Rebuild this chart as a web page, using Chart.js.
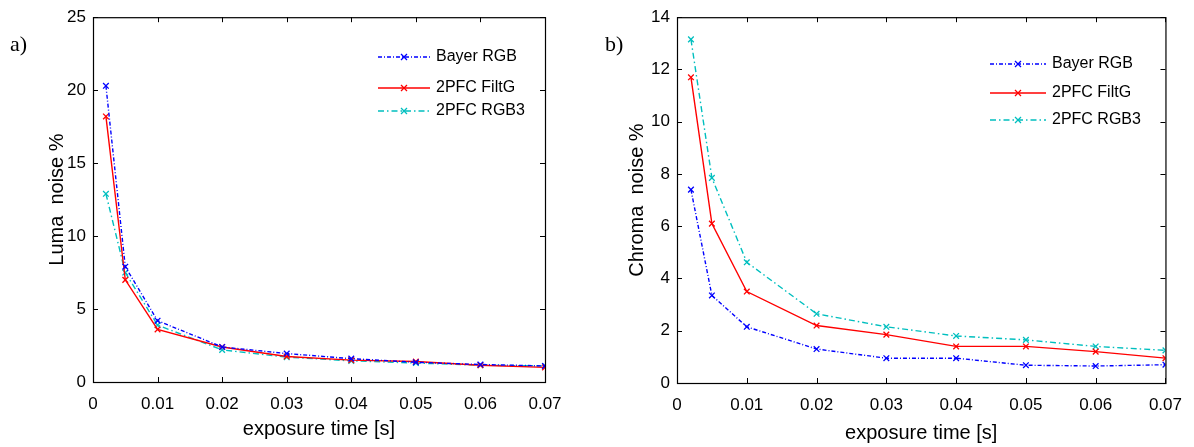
<!DOCTYPE html>
<html>
<head>
<meta charset="utf-8">
<script src="https://cdn.jsdelivr.net/npm/chart.js@4.4.1/dist/chart.umd.min.js"></script>
<style>
    html, body { margin: 0; padding: 0; background: #fff; }
    #wrap { position: relative; width: 1194px; height: 447px; }
    .box { position: absolute; top: 0; width: 597px; height: 447px; }
    #boxA { left: 0; }
    #boxB { left: 597px; }
</style>
</head>
<body>
<div id="wrap">
    <div class="box" id="boxA"><canvas id="lumaChart"></canvas></div>
    <div class="box" id="boxB"><canvas id="chromaChart"></canvas></div>
</div>
<script>
// exposure times (s)
const exposureTimes = [0.002, 0.005, 0.01, 0.02, 0.03, 0.04, 0.05, 0.06, 0.07];
const seriesNames = ['Bayer RGB', '2PFC FiltG', '2PFC RGB3'];

// a) luma noise %
const lumaBayer = [20.3, 7.9, 4.2, 2.4, 1.95, 1.6, 1.35, 1.2, 1.1];
const lumaFiltG = [18.2, 7.0, 3.6, 2.4, 1.75, 1.5, 1.4, 1.15, 1.0];
const lumaRGB3  = [12.9, 7.5, 3.9, 2.2, 1.7, 1.45, 1.3, 1.15, 1.1];

// b) chroma noise %
const chromaBayer = [7.4, 3.35, 2.15, 1.3, 0.95, 0.95, 0.68, 0.65, 0.7];
const chromaFiltG = [11.7, 6.1, 3.5, 2.2, 1.85, 1.4, 1.4, 1.2, 0.95];
const chromaRGB3  = [13.15, 7.85, 4.62, 2.65, 2.15, 1.8, 1.65, 1.4, 1.25];

const xTicks = [0, 0.01, 0.02, 0.03, 0.04, 0.05, 0.06, 0.07];

const styles = [
    { color: '#0000FF', dash: [4, 2, 1, 2] },
    { color: '#FF0000', dash: [] },
    { color: '#00BFBF', dash: [6, 3, 1.5, 3] }
];

const tickFont = { family: 'Liberation Sans', size: 17 };
const titleFont = { family: 'Liberation Sans', size: 20 };

function makeDatasets(seriesList) {
    return seriesList.map((vals, i) => ({
        label: seriesNames[i],
        data: exposureTimes.map((t, k) => ({ x: t, y: vals[k] })),
        borderColor: styles[i].color,
        backgroundColor: styles[i].color,
        borderDash: styles[i].dash,
        borderWidth: 1.4,
        pointStyle: 'crossRot',
        pointRadius: 4,
        pointBorderWidth: 1.3,
        tension: 0,
        fill: false
    }));
}

// matlab-like frame: box, inward ticks, panel label, legend
const matlabFrame = {
    id: 'matlabFrame',
    afterDraw(chart, args, opts) {
        const ctx = chart.ctx;
        const a = chart.chartArea;
        const xs = chart.scales.x;
        const ys = chart.scales.y;
        ctx.save();
        ctx.strokeStyle = '#000';
        ctx.lineWidth = 1.2;
        ctx.setLineDash([]);
        ctx.strokeRect(a.left + 0.5, a.top + 0.5, a.right - a.left, a.bottom - a.top);
        const len = 5;
        ctx.lineWidth = 1;
        ctx.beginPath();
        xs.ticks.forEach(t => {
            const px = Math.round(xs.getPixelForValue(t.value)) + 0.5;
            ctx.moveTo(px, a.bottom); ctx.lineTo(px, a.bottom - len);
            ctx.moveTo(px, a.top); ctx.lineTo(px, a.top + len);
        });
        ys.ticks.forEach(t => {
            const py = Math.round(ys.getPixelForValue(t.value)) + 0.5;
            ctx.moveTo(a.left, py); ctx.lineTo(a.left + len, py);
            ctx.moveTo(a.right, py); ctx.lineTo(a.right - len, py);
        });
        ctx.stroke();

        // panel label
        ctx.fillStyle = '#000';
        ctx.font = '22px "Liberation Serif"';
        ctx.textBaseline = 'middle';
        ctx.textAlign = 'left';
        ctx.fillText(opts.panel, opts.panelX, opts.panelY);

        // legend
        ctx.font = '16px "Liberation Sans"';
        chart.data.datasets.forEach((ds, i) => {
            const y = opts.legendRows[i];
            ctx.strokeStyle = ds.borderColor;
            ctx.lineWidth = 1.3;
            ctx.setLineDash(ds.borderDash);
            ctx.beginPath();
            ctx.moveTo(opts.legendX, y);
            ctx.lineTo(opts.legendX + opts.legendLen, y);
            ctx.stroke();
            ctx.setLineDash([]);
            const mx = opts.legendX + opts.legendLen / 2;
            ctx.beginPath();
            ctx.moveTo(mx - 3, y - 3); ctx.lineTo(mx + 3, y + 3);
            ctx.moveTo(mx - 3, y + 3); ctx.lineTo(mx + 3, y - 3);
            ctx.stroke();
            ctx.fillStyle = '#000';
            ctx.fillText(ds.label, opts.legendX + opts.legendLen + 6, y);
        });
        ctx.restore();
    }
};

function makeChart(canvasId, seriesList, cfg) {
    const ctx = document.getElementById(canvasId).getContext('2d');
    return new Chart(ctx, {
        type: 'line',
        data: { datasets: makeDatasets(seriesList) },
        plugins: [matlabFrame],
        options: {
            responsive: true,
            maintainAspectRatio: false,
            animation: false,
            layout: { padding: { left: cfg.padLeft, right: cfg.padRight, top: cfg.padTop, bottom: 0 } },
            scales: {
                x: {
                    type: 'linear',
                    min: 0,
                    max: 0.07,
                    afterBuildTicks: scale => { scale.ticks = xTicks.map(v => ({ value: v })); },
                    afterFit: scale => { scale.height = cfg.xHeight; },
                    grid: { display: false, drawTicks: false },
                    border: { display: false },
                    ticks: {
                        color: '#000',
                        font: tickFont,
                        padding: 12,
                        maxRotation: 0,
                        callback: v => String(+v.toFixed(2))
                    },
                    title: {
                        display: true,
                        text: 'exposure time [s]',
                        color: '#000',
                        font: titleFont,
                        padding: { top: 0, bottom: cfg.xTitlePad }
                    }
                },
                y: {
                    min: 0,
                    max: cfg.yMax,
                    afterFit: scale => { scale.width = cfg.yWidth; },
                    grid: { display: false, drawTicks: false },
                    border: { display: false },
                    ticks: { stepSize: cfg.yStep, color: '#000', font: tickFont, padding: 7 },
                    title: {
                        display: true,
                        text: cfg.yTitle,
                        color: '#000',
                        font: titleFont,
                        padding: 0
                    }
                }
            },
            plugins: {
                legend: { display: false },
                tooltip: { enabled: false },
                matlabFrame: cfg.frame
            }
        }
    });
}

makeChart('lumaChart', [lumaBayer, lumaFiltG, lumaRGB3], {
    padLeft: 45, padRight: 52, padTop: 16,
    yWidth: 48, xHeight: 65, xTitlePad: 6,
    yMax: 25, yStep: 5, yTitle: 'Luma  noise %',
    frame: { panel: 'a)', panelX: 10, panelY: 45, legendX: 378, legendLen: 52, legendRows: [57, 88, 111] }
});

makeChart('chromaChart', [chromaBayer, chromaFiltG, chromaRGB3], {
    padLeft: 28, padRight: 20, padTop: 17,
    yWidth: 52, xHeight: 64, xTitlePad: 2,
    yMax: 14, yStep: 2, yTitle: 'Chroma  noise %',
    frame: { panel: 'b)', panelX: 8, panelY: 45, legendX: 393, legendLen: 56, legendRows: [64, 93, 120] }
});
</script>
</body>
</html>
